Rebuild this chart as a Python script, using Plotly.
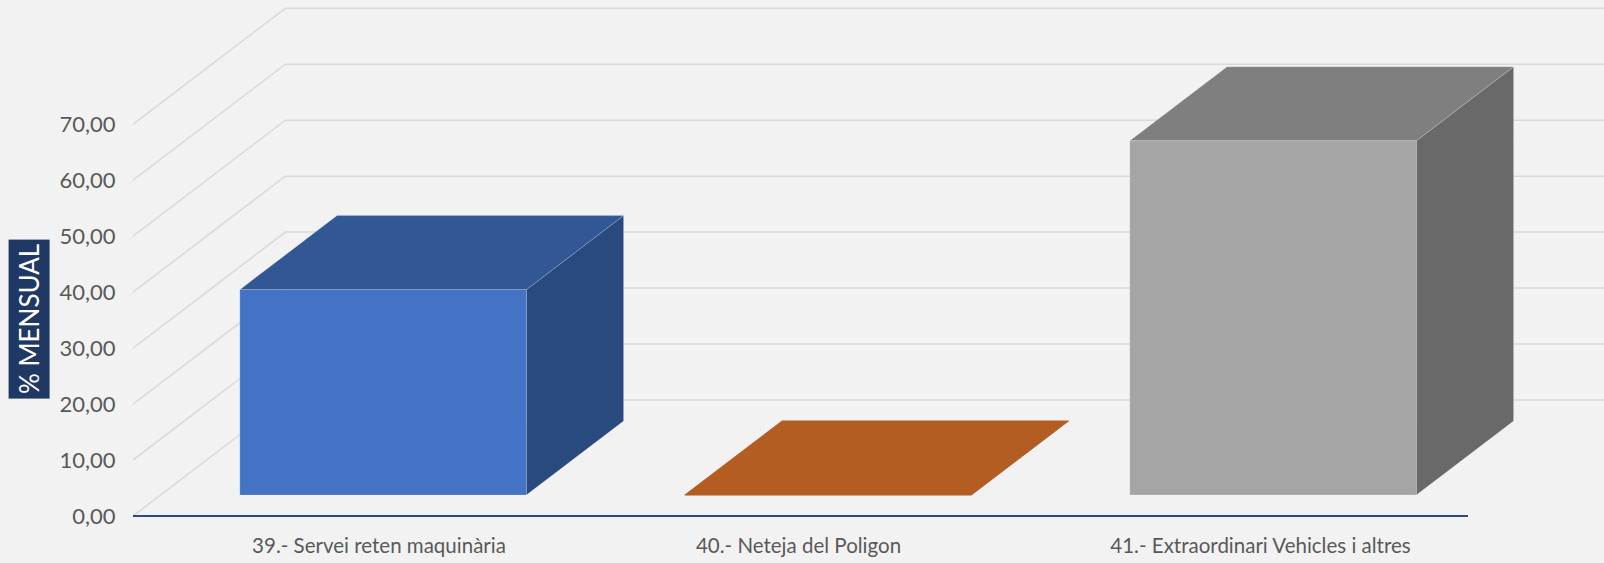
import plotly.graph_objects as go

# ---------------- data ----------------
categories = [
    "39.- Servei reten maquinària",
    "40.- Neteja del Poligon",
    "41.- Extraordinari Vehicles i altres",
]
values = [36.7, 0.0, 63.3]
y_ticks = [0, 10, 20, 30, 40, 50, 60, 70]
y_tick_labels = ["0,00", "10,00", "20,00", "30,00", "40,00", "50,00", "60,00", "70,00"]
front_colors = ["#4472C4", "#ED7D31", "#A5A5A5"]
top_colors = ["#335694", "#B45D23", "#7F7F7F"]
side_colors = ["#294A7F", "#8F4A1C", "#696969"]

# ---------------- geometry (styling) ----------------
W, H = 1604, 563
ML, MR, MT, MB = 133, 0, 0, 40
px_per_cat = 445.0
px_per_unit = 5.596
Dx = 152.4 / px_per_cat          # depth offset in category units
Dy = 116.0 / px_per_unit         # depth offset in value units
f1, f2 = 0.181, 0.819            # bar depth span
half_w = 286.5 / px_per_cat / 2  # half bar width
zero_px = 516                    # pixel row of value 0 on front plane
label_nudge_px = [23.5, -2.0, 15.0]  # horizontal label placement tweak

plot_h = H - MT - MB
y_max = zero_px / px_per_unit
y_min = y_max - plot_h / px_per_unit
x_min = -0.5
x_max = x_min + (W - ML - MR) / px_per_cat
x_floor_end = len(categories) - 0.5

fig = go.Figure()

# oblique gridlines: left wall diagonal + back wall horizontal
gx, gy = [], []
for t in y_ticks:
    gx += [x_min, x_min + Dx, x_floor_end + Dx, None]
    gy += [t, t + Dy, t + Dy, None]
fig.add_trace(go.Scatter(x=gx, y=gy, mode="lines",
                         line=dict(color="#D9D9D9", width=1.5),
                         hoverinfo="skip", showlegend=False))

# axis line on front floor edge
fig.add_trace(go.Scatter(x=[x_min, x_floor_end], y=[0, 0], mode="lines",
                         line=dict(color="#2F4B7C", width=2.2),
                         hoverinfo="skip", showlegend=False))


def poly(xs, ys, color, edge):
    fig.add_trace(go.Scatter(x=xs + [xs[0]], y=ys + [ys[0]], mode="lines",
                             fill="toself", fillcolor=color,
                             line=dict(color=edge, width=1),
                             hoverinfo="skip", showlegend=False))


for i, (cat, v) in enumerate(zip(categories, values)):
    xl = i - half_w
    xr = i + half_w
    a1x, a1y = f1 * Dx, f1 * Dy
    a2x, a2y = f2 * Dx, f2 * Dy
    edge = "rgba(255,255,255,0.18)"
    # right side face
    if v > 0:
        poly([xr + a1x, xr + a2x, xr + a2x, xr + a1x],
             [a1y, a2y, v + a2y, v + a1y], side_colors[i], edge)
    # top face
    poly([xl + a1x, xr + a1x, xr + a2x, xl + a2x],
         [v + a1y, v + a1y, v + a2y, v + a2y], top_colors[i],
         edge if v > 0 else top_colors[i])
    # front face
    if v > 0:
        poly([xl + a1x, xr + a1x, xr + a1x, xl + a1x],
             [a1y, a1y, v + a1y, v + a1y], front_colors[i], edge)

tick_x = [i + n / px_per_cat for i, n in enumerate(label_nudge_px)]

FONT = "Lato"
fig.update_layout(
    width=W, height=H,
    margin=dict(l=ML, r=MR, t=MT, b=MB, pad=0),
    paper_bgcolor="#F2F2F2", plot_bgcolor="#F2F2F2",
    showlegend=False,
    font=dict(family=FONT, color="#595959", size=20),
    xaxis=dict(range=[x_min, x_max], tickvals=tick_x,
               ticktext=categories, showgrid=False, zeroline=False,
               showline=False, ticks="outside", ticklen=4,
               tickcolor="rgba(0,0,0,0)", fixedrange=True,
               tickfont=dict(family=FONT, size=20.5, color="#595959")),
    yaxis=dict(range=[y_min, y_max], tickvals=y_ticks, ticktext=y_tick_labels,
               showgrid=False, zeroline=False, showline=False,
               ticks="outside", ticklen=12, tickcolor="rgba(0,0,0,0)",
               fixedrange=True,
               tickfont=dict(family=FONT, size=22, color="#595959")),
    annotations=[dict(
        text="% MENSUAL", textangle=-90, showarrow=False,
        xref="paper", yref="paper",
        x=(28.6 - ML) / (W - ML - MR), y=(H - MB - 319.5) / plot_h,
        xanchor="center", yanchor="middle",
        font=dict(family=FONT, size=26, color="#FFFFFF"),
        bgcolor="#1F3864", borderpad=4,
    )],
)

fig.write_html("out.html",
               config={"displayModeBar": False},
               post_script="document.body.style.margin='0px';"
                           "document.body.style.overflow='hidden';")
